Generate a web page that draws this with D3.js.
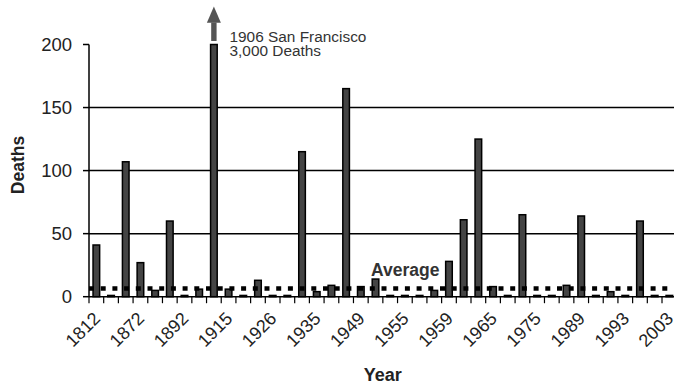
<!DOCTYPE html>
<html>
<head>
<meta charset="utf-8">
<script src="https://cdn.jsdelivr.net/npm/d3@7"></script>
<style>
  html, body { margin: 0; padding: 0; background: #fff; }
  svg { display: block; }
  text { font-family: "Liberation Sans", Arial, Helvetica, sans-serif; }
</style>
</head>
<body>
<svg id="chart" width="674" height="386"></svg>
<script>
// ---- data ----
const tickLabels = ["1812","1872","1892","1915","1926","1935","1949","1955","1959","1965","1975","1989","1993","2003"];
const labelEvery = 3;
const deaths = [41,1,107,27,5,60,1,6,3000,6,1,13,1,1,115,4,9,165,8,14,1,1,1,5,28,61,125,8,1,65,1,1,9,64,1,4,1,60,1,1];
const yTicks = [0, 50, 100, 150, 200];
const gridValues = [50, 100, 150];
const averageDeaths = 6.5;
const yMax = 200;
const annotationLines = ["1906 San Francisco", "3,000 Deaths"];
const annotatedIndex = 8;

// ---- layout ----
const svg = d3.select("#chart");
const mLeft = 89, mRight = 676.7, mTop = 44.5, mBottom = 296.7;

const x = d3.scaleBand()
  .domain(d3.range(deaths.length))
  .range([mLeft, mRight])
  .paddingInner(0.55)
  .paddingOuter(0.275);
const step = x.step();

const y = d3.scaleLinear().domain([0, yMax]).range([mBottom, mTop]);

// gridlines
svg.append("g").selectAll("line").data(gridValues).join("line")
  .attr("x1", mLeft).attr("x2", mRight)
  .attr("y1", d => y(d)).attr("y2", d => y(d))
  .attr("stroke", "#000").attr("stroke-width", 1.5);

// bars
svg.append("g").selectAll("rect").data(deaths).join("rect")
  .attr("x", (d, i) => x(i))
  .attr("width", x.bandwidth())
  .attr("y", d => y(Math.min(d, yMax)))
  .attr("height", d => mBottom - y(Math.min(d, yMax)))
  .attr("fill", "#444")
  .attr("stroke", "#000")
  .attr("stroke-width", 1.5);

// average line
svg.append("line")
  .attr("x1", mLeft).attr("x2", mRight)
  .attr("y1", y(averageDeaths)).attr("y2", y(averageDeaths))
  .attr("stroke", "#000").attr("stroke-width", 4.5)
  .attr("stroke-dasharray", "5,6.7");

svg.append("text")
  .attr("x", 371).attr("y", 275.7)
  .attr("font-size", 17.5).attr("font-weight", "bold").attr("fill", "#333")
  .text("Average");

// y axis
const yAxisG = svg.append("g");
yAxisG.append("line").attr("x1", mLeft).attr("x2", mLeft).attr("y1", mTop).attr("y2", mBottom)
  .attr("stroke", "#000").attr("stroke-width", 1.5);
yAxisG.selectAll("line.t").data(yTicks).join("line").attr("class", "t")
  .attr("x1", mLeft - 6).attr("x2", mLeft)
  .attr("y1", d => y(d)).attr("y2", d => y(d))
  .attr("stroke", "#000").attr("stroke-width", 1.5);
yAxisG.selectAll("text").data(yTicks).join("text")
  .attr("x", 72).attr("y", d => y(d)).attr("dy", "0.36em")
  .attr("text-anchor", "end").attr("font-size", 18.5).attr("fill", "#222")
  .text(d => d);

// x axis
const xAxisG = svg.append("g");
xAxisG.append("line").attr("x1", mLeft).attr("x2", mRight).attr("y1", mBottom).attr("y2", mBottom)
  .attr("stroke", "#000").attr("stroke-width", 1.5);
xAxisG.selectAll("line.t").data(d3.range(deaths.length + 1)).join("line").attr("class", "t")
  .attr("x1", i => mLeft + i * step).attr("x2", i => mLeft + i * step)
  .attr("y1", mBottom).attr("y2", mBottom + 6.5)
  .attr("stroke", "#000").attr("stroke-width", 1.2);
xAxisG.selectAll("text").data(tickLabels).join("text")
  .attr("transform", (d, k) => {
    const cx = x(k * labelEvery) + x.bandwidth() / 2 + 5;
    return `translate(${cx},${mBottom + 23}) rotate(-45)`;
  })
  .attr("text-anchor", "end").attr("font-size", 18).attr("fill", "#222")
  .text(d => d);

// axis titles
svg.append("text")
  .attr("transform", `translate(24,165) rotate(-90)`)
  .attr("text-anchor", "middle").attr("font-size", 17.5).attr("font-weight", "bold").attr("fill", "#222")
  .text("Deaths");
svg.append("text")
  .attr("x", (mLeft + mRight) / 2).attr("y", 381)
  .attr("text-anchor", "middle").attr("font-size", 18).attr("font-weight", "bold").attr("fill", "#222")
  .text("Year");

// annotation arrow for capped bar
const ax = x(annotatedIndex) + x.bandwidth() / 2;
svg.append("rect")
  .attr("x", ax - 2.7).attr("width", 5.4)
  .attr("y", 22.5).attr("height", 18.5)
  .attr("fill", "#555");
svg.append("path")
  .attr("d", `M${ax - 7},22.7 L${ax + 7},22.7 L${ax},6.5 Z`)
  .attr("fill", "#555");
svg.append("g").selectAll("text").data(annotationLines).join("text")
  .attr("x", 229.5).attr("y", (d, i) => 41.5 + i * 14.8)
  .attr("font-size", 15.4).attr("fill", "#333")
  .text(d => d);
</script>
</body>
</html>
